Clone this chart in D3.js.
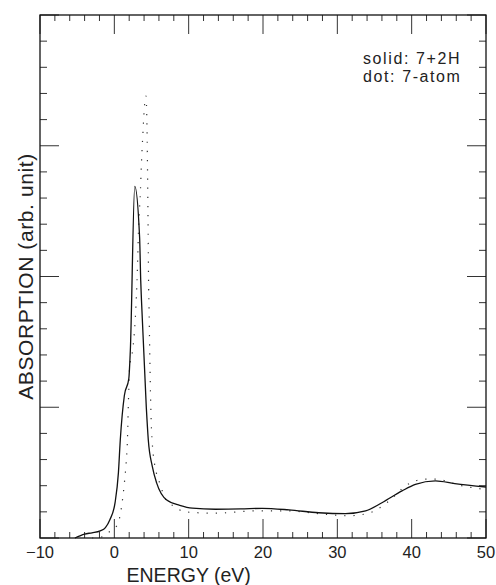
<!DOCTYPE html>
<html>
<head>
<meta charset="utf-8">
<script src="https://cdn.jsdelivr.net/npm/d3@7"></script>
<style>
  body { margin: 0; background: #fff; }
  text { font-family: "Liberation Sans", Arial, sans-serif; fill: #222; }
</style>
</head>
<body>
<svg id="chart"></svg>
<script>
// energy (eV) / absorption (arb. unit)
const solidEnergy = [-5.3, -4.0, -3, -1.9, -1.2, -0.6, 0.1, 0.55, 0.8, 1.35, 1.95, 2.15, 2.75, 3.4, 3.55, 3.65, 4.3, 4.57, 5.1, 5.7, 7.05, 8.8, 10.5, 13.6, 17, 19.9, 23.5, 27.5, 31.1, 33.8, 36, 38.7, 40.5, 43.2, 45.8, 50];
const solidAbs    = [0.0, 0.03, 0.04, 0.055, 0.08, 0.14, 0.27, 0.5, 0.75, 1.09, 1.22, 1.43, 2.69, 2.3, 1.97, 1.82, 1.0, 0.75, 0.55, 0.42, 0.29, 0.25, 0.228, 0.22, 0.222, 0.227, 0.215, 0.193, 0.186, 0.207, 0.27, 0.36, 0.41, 0.437, 0.416, 0.39];

const dotEnergy = [-3, -1.5, -0.6, 0.4, 1.0, 1.35, 1.57, 1.75, 1.9, 2.05, 2.45, 2.8, 3.1, 3.25, 3.5, 3.65, 3.85, 4.05, 4.25, 4.4, 4.48, 4.55, 4.6, 4.67, 4.8, 4.93, 5.1, 5.65, 6.1, 7.0, 8.15, 9.4, 13.6, 19, 23.5, 27.5, 31.5, 34.2, 36.9, 39.2, 41.8, 43.2, 46.7, 50];
const dotAbs    = [0, 0.01, 0.05, 0.1, 0.25, 0.42, 0.56, 0.73, 1.05, 1.3, 1.43, 1.66, 2.05, 2.35, 2.64, 2.87, 3.1, 3.3, 3.38, 3.12, 2.74, 2.33, 1.99, 1.76, 1.3, 0.95, 0.73, 0.5, 0.42, 0.285, 0.24, 0.2, 0.19, 0.207, 0.207, 0.186, 0.17, 0.19, 0.28, 0.4, 0.45, 0.45, 0.4, 0.37];

const xTickLabels = [-10, 0, 10, 20, 30, 40, 50];
const legendLines = ["solid: 7+2H", "dot: 7-atom"];

const width = 496, height = 585;
const margin = { top: 15, right: 10, bottom: 47, left: 40 };

const svg = d3.select("#chart").attr("width", width).attr("height", height);

const x = d3.scaleLinear().domain([-10, 50]).range([margin.left, width - margin.right]);
const y = d3.scaleLinear().domain([0, 4]).range([height - margin.bottom, margin.top]);

const x0 = x.range()[0], x1 = x.range()[1];
const y0 = y.range()[0], y1 = y.range()[1];

// ticks, inward on all four sides
const majorX = d3.range(-10, 51, 10), minorX = d3.range(-10, 51, 2).filter(v => v % 10 !== 0);
const majorY = d3.range(0, 4.01, 1), minorY = d3.range(0, 4.01, 0.2).filter(v => Math.abs(v - Math.round(v)) > 1e-6);

const ticks = svg.append("g").attr("stroke", "#333").attr("stroke-width", 1);
function xTicks(vals, len) {
  vals.forEach(v => {
    ticks.append("line").attr("x1", x(v)).attr("x2", x(v)).attr("y1", y0).attr("y2", y0 - len);
    ticks.append("line").attr("x1", x(v)).attr("x2", x(v)).attr("y1", y1).attr("y2", y1 + len);
  });
}
function yTicks(vals, len) {
  vals.forEach(v => {
    ticks.append("line").attr("y1", y(v)).attr("y2", y(v)).attr("x1", x0).attr("x2", x0 + len);
    ticks.append("line").attr("y1", y(v)).attr("y2", y(v)).attr("x1", x1).attr("x2", x1 - len);
  });
}
xTicks(majorX, 19); xTicks(minorX, 6);
yTicks(majorY, 19); yTicks(minorY, 7);

// frame
svg.append("rect")
  .attr("x", x0).attr("y", y1)
  .attr("width", x1 - x0).attr("height", y0 - y1)
  .attr("fill", "none").attr("stroke", "#111").attr("stroke-width", 1.3);

// tick labels
svg.append("g").selectAll("text")
  .data(xTickLabels)
  .enter().append("text")
  .attr("x", d => x(d))
  .attr("y", y0 + 20)
  .attr("text-anchor", "middle")
  .attr("font-size", 16.5)
  .text(d => d < 0 ? "\u2212" + Math.abs(d) : d);

// axis titles
svg.append("text")
  .attr("x", x(10)).attr("y", 581.5)
  .attr("text-anchor", "middle")
  .attr("font-size", 19.5)
  .text("ENERGY (eV)");

svg.append("text")
  .attr("transform", `translate(33,${(y0 + y1) / 2}) rotate(-90)`)
  .attr("text-anchor", "middle")
  .attr("font-size", 21)
  .attr("letter-spacing", 0.6)
  .text("ABSORPTION (arb. unit)");

// legend
svg.append("g").selectAll("text")
  .data(legendLines)
  .enter().append("text")
  .attr("x", 363)
  .attr("y", (d, i) => 64 + i * 17.5)
  .attr("font-size", 16)
  .attr("letter-spacing", 1.6)
  .text(d => d);

// curves
const line = d3.line()
  .x(d => x(d[0]))
  .y(d => y(d[1]))
  .curve(d3.curveMonotoneX);

const solid = solidEnergy.map((e, i) => [e, solidAbs[i]]);
const dotted = dotEnergy.map((e, i) => [e, dotAbs[i]]);

svg.append("path")
  .datum(dotted)
  .attr("fill", "none")
  .attr("stroke", "#333")
  .attr("stroke-width", 1.2)
  .attr("stroke-dasharray", "1.2 8")
  .attr("d", line);

svg.append("path")
  .datum(solid)
  .attr("fill", "none")
  .attr("stroke", "#111")
  .attr("stroke-width", 1.3)
  .attr("d", line);
</script>
</body>
</html>
